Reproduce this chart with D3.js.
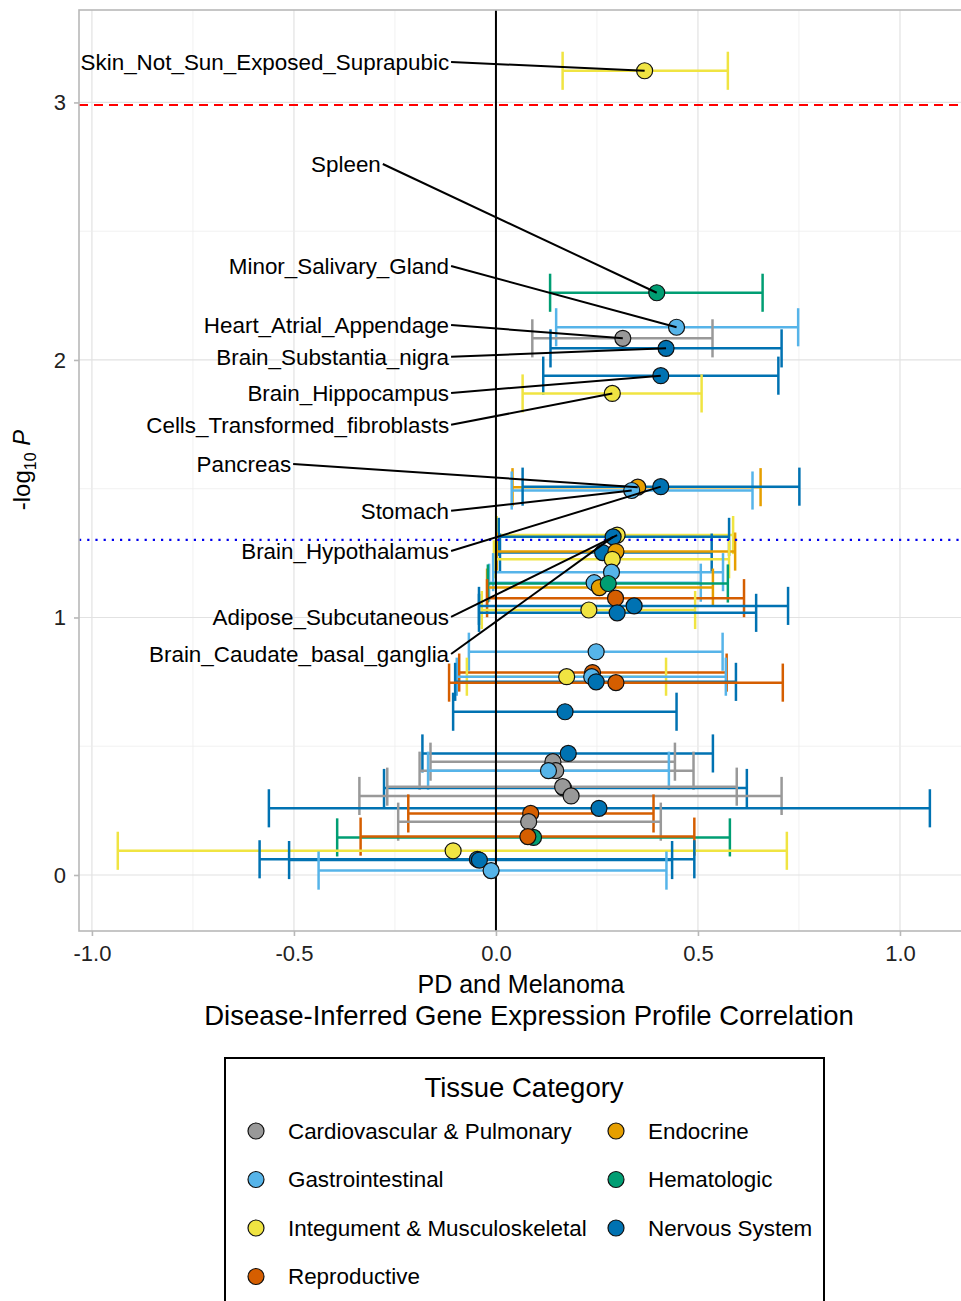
<!DOCTYPE html>
<meta charset="UTF-8">
<script src="https://cdn.jsdelivr.net/npm/d3@7"></script>
<style>
 body { margin:0; background:#fff; }
 svg { font-family:"Liberation Sans", Arial, sans-serif; display:block; }
</style>
<svg id="chart" width="961" height="1301"></svg>
<script>
 // Tissue categories (legend order, filled by row) and their colours
 var categories = ["Cardiovascular & Pulmonary", "Endocrine", "Gastrointestinal", "Hematologic",
                   "Integument & Musculoskeletal", "Nervous System", "Reproductive"];
 var catColors = ["#999999", "#E69F00", "#56B4E9", "#009E73", "#F0E442", "#0072B2", "#D55E00"];

 // One entry per tissue: category index, correlation, -log10 P, 95% CI
 var tissueCat = [4, 3, 2, 0, 5, 5, 4, 1, 2, 5,
                  4, 5, 5, 1, 4, 2, 2, 1, 3, 6, 4, 5, 5,
                  2, 6, 4, 2, 5, 6, 5,
                  5, 0, 0, 2, 5, 0, 0, 5, 6, 0, 3, 6, 4, 5, 5, 2];
 var corr    = [0.368, 0.398, 0.447, 0.314, 0.421, 0.408, 0.288, 0.351, 0.336, 0.408,
                0.300, 0.290, 0.264, 0.297, 0.288, 0.286, 0.243, 0.256, 0.278, 0.296, 0.230, 0.300, 0.342,
                0.248, 0.239, 0.175, 0.237, 0.248, 0.297, 0.171,
                0.179, 0.141, 0.148, 0.130, 0.167, 0.165, 0.186, 0.255, 0.086, 0.081, 0.093, 0.079, -0.106, -0.046, -0.041, -0.012];
 var negLogP = [3.123, 2.261, 2.127, 2.084, 2.045, 1.939, 1.870, 1.506, 1.493, 1.508,
                1.320, 1.313, 1.252, 1.256, 1.226, 1.176, 1.135, 1.116, 1.132, 1.075, 1.029, 1.018, 1.045,
                0.867, 0.786, 0.770, 0.770, 0.750, 0.747, 0.634,
                0.472, 0.440, 0.405, 0.405, 0.338, 0.343, 0.307, 0.259, 0.239, 0.207, 0.146, 0.149, 0.094, 0.061, 0.058, 0.017];
 var ciLow   = [0.165, 0.134, 0.149, 0.090, 0.135, 0.117, 0.066, 0.041, 0.039, 0.066,
                0.002, 0.007, 0.010, 0.002, -0.005, -0.007, -0.017, -0.022, -0.020, -0.022, -0.035, -0.042, -0.042,
                -0.067, -0.091, -0.072, -0.097, -0.101, -0.116, -0.106,
                -0.182, -0.162, -0.189, -0.168, -0.277, -0.269, -0.338, -0.562, -0.217, -0.242, -0.393, -0.335, -0.936, -0.585, -0.512, -0.439];
 var ciHigh  = [0.574, 0.660, 0.748, 0.536, 0.707, 0.699, 0.509, 0.655, 0.635, 0.751,
                0.587, 0.577, 0.534, 0.592, 0.577, 0.562, 0.507, 0.537, 0.574, 0.614, 0.493, 0.644, 0.723,
                0.561, 0.571, 0.421, 0.569, 0.594, 0.710, 0.447,
                0.537, 0.443, 0.489, 0.428, 0.621, 0.596, 0.707, 1.074, 0.390, 0.408, 0.579, 0.491, 0.720, 0.491, 0.436, 0.422];

 // Labelled tissues: index into the arrays above, and where the label sits (data units)
 var labelNames = ["Skin_Not_Sun_Exposed_Suprapubic", "Spleen", "Minor_Salivary_Gland", "Heart_Atrial_Appendage",
                   "Brain_Substantia_nigra", "Brain_Hippocampus", "Cells_Transformed_fibroblasts", "Pancreas",
                   "Stomach", "Brain_Hypothalamus", "Adipose_Subcutaneous", "Brain_Caudate_basal_ganglia"];
 var labelIdx = [0, 1, 2, 3, 4, 5, 6, 7, 8, 9, 10, 11];
 var labelAtX = [-0.116, -0.285, -0.116, -0.116, -0.116, -0.116, -0.116, -0.507, -0.116, -0.116, -0.116, -0.116];
 var labelAtY = [3.157, 2.761, 2.365, 2.136, 2.012, 1.872, 1.748, 1.596, 1.414, 1.258, 1.002, 0.858];

 var xTicks = [-1.0, -0.5, 0.0, 0.5, 1.0];
 var yTicks = [0, 1, 2, 3];
 var bonferroni = 2.99, nominal = 1.301;

 var svg = d3.select("#chart");
 var pLeft = 79, pRight = 963, pTop = 10, pBottom = 931;

 var x = d3.scaleLinear().domain([-1.032, 1.156]).range([pLeft, pRight]);
 var y = d3.scaleLinear().domain([-0.2175, 3.359]).range([pBottom, pTop]);
 var color = d3.scaleOrdinal().domain(d3.range(categories.length)).range(catColors);

 svg.append("clipPath").attr("id", "panel")
    .append("rect").attr("x", pLeft).attr("y", pTop).attr("width", pRight - pLeft).attr("height", pBottom - pTop);

 // Grid
 var grid = svg.append("g");
 grid.selectAll(".gx").data(d3.range(-1, 1.01, 0.25)).enter().append("line")
     .attr("x1", d => x(d)).attr("x2", d => x(d)).attr("y1", pTop).attr("y2", pBottom)
     .attr("stroke", (d, i) => i % 2 ? "#eeeeee" : "#e2e2e2").attr("stroke-width", (d, i) => i % 2 ? 0.8 : 1.2);
 grid.selectAll(".gy").data(d3.range(0, 3.01, 0.5)).enter().append("line")
     .attr("y1", d => y(d)).attr("y2", d => y(d)).attr("x1", pLeft).attr("x2", pRight)
     .attr("stroke", (d, i) => i % 2 ? "#eeeeee" : "#e2e2e2").attr("stroke-width", (d, i) => i % 2 ? 0.8 : 1.2);

 var plot = svg.append("g").attr("clip-path", "url(#panel)");
 var rows = d3.range(corr.length);
 var capHalf = 0.074;

 // Error bars
 var bars = plot.append("g").selectAll("g").data(rows).enter().append("g")
     .attr("stroke", i => color(tissueCat[i])).attr("stroke-width", 2.5).attr("fill", "none");
 bars.append("line").attr("x1", i => x(ciLow[i])).attr("x2", i => x(ciHigh[i]))
     .attr("y1", i => y(negLogP[i])).attr("y2", i => y(negLogP[i]));
 bars.append("line").attr("x1", i => x(ciLow[i])).attr("x2", i => x(ciLow[i]))
     .attr("y1", i => y(negLogP[i] + capHalf)).attr("y2", i => y(negLogP[i] - capHalf));
 bars.append("line").attr("x1", i => x(ciHigh[i])).attr("x2", i => x(ciHigh[i]))
     .attr("y1", i => y(negLogP[i] + capHalf)).attr("y2", i => y(negLogP[i] - capHalf));

 // Reference lines
 plot.append("line").attr("x1", pLeft).attr("x2", pRight).attr("y1", y(bonferroni)).attr("y2", y(bonferroni))
     .attr("stroke", "#ff0000").attr("stroke-width", 2.2).attr("stroke-dasharray", "9,6");
 plot.append("line").attr("x1", pLeft).attr("x2", pRight).attr("y1", y(nominal)).attr("y2", y(nominal))
     .attr("stroke", "#0000ee").attr("stroke-width", 2.2).attr("stroke-dasharray", "2.2,6");
 plot.append("line").attr("x1", x(0)).attr("x2", x(0)).attr("y1", pTop).attr("y2", pBottom)
     .attr("stroke", "#000").attr("stroke-width", 2);

 // Points
 plot.append("g").selectAll("circle").data(rows).enter().append("circle")
     .attr("cx", i => x(corr[i])).attr("cy", i => y(negLogP[i])).attr("r", 8)
     .attr("fill", i => color(tissueCat[i])).attr("stroke", "#111").attr("stroke-width", 1.2);

 // Labels with leader segments
 var lab = svg.append("g").selectAll("g").data(labelNames).enter().append("g");
 lab.append("line")
    .attr("x1", (d, k) => x(labelAtX[k]) + 2).attr("y1", (d, k) => y(labelAtY[k]))
    .attr("x2", (d, k) => x(corr[labelIdx[k]])).attr("y2", (d, k) => y(negLogP[labelIdx[k]]))
    .attr("stroke", "#000").attr("stroke-width", 2);
 lab.append("text")
    .attr("x", (d, k) => x(labelAtX[k])).attr("y", (d, k) => y(labelAtY[k]))
    .attr("text-anchor", "end").attr("dy", "0.35em").attr("font-size", 22.4).attr("fill", "#000")
    .text(d => d);

 // Panel border
 svg.append("rect").attr("x", pLeft).attr("y", pTop).attr("width", pRight - pLeft).attr("height", pBottom - pTop)
    .attr("fill", "none").attr("stroke", "#b8b8b8").attr("stroke-width", 1.6);

 // Axes
 var xAxis = svg.append("g").attr("transform", "translate(0," + pBottom + ")")
     .call(d3.axisBottom(x).tickValues(xTicks).tickFormat(d3.format(".1f")).tickSize(5).tickPadding(9));
 var yAxis = svg.append("g").attr("transform", "translate(" + pLeft + ",0)")
     .call(d3.axisLeft(y).tickValues(yTicks).tickFormat(d3.format("d")).tickSize(5).tickPadding(8));
 [xAxis, yAxis].forEach(function (a) {
     a.select(".domain").remove();
     a.selectAll(".tick line").attr("stroke", "#b8b8b8").attr("stroke-width", 1.6);
     a.selectAll(".tick text").attr("font-size", 22).attr("fill", "#222")
      .attr("font-family", "Liberation Sans, Arial, sans-serif");
 });
 xAxis.selectAll(".tick text").text(d => d3.format(".1f")(d).replace("−", "-"));

 // Axis titles
 svg.append("text").attr("x", 521).attr("y", 984).attr("dy", "0.35em").attr("text-anchor", "middle")
    .attr("font-size", 25).text("PD and Melanoma");
 svg.append("text").attr("x", 529).attr("y", 1015).attr("dy", "0.35em").attr("text-anchor", "middle")
    .attr("font-size", 27.5).text("Disease-Inferred Gene Expression Profile Correlation");

 var yt = svg.append("text").attr("transform", "translate(30,470) rotate(-90)")
    .attr("text-anchor", "middle").attr("font-size", 24);
 yt.append("tspan").text("-log");
 yt.append("tspan").attr("font-size", 16).attr("dy", 6).text("10");
 yt.append("tspan").attr("dy", -6).text(" ");
 yt.append("tspan").attr("font-style", "italic").text("P");

 // Legend
 var lg = svg.append("g");
 lg.append("rect").attr("x", 225).attr("y", 1058).attr("width", 599).attr("height", 280)
   .attr("fill", "#fff").attr("stroke", "#000").attr("stroke-width", 2);
 lg.append("text").attr("x", 524).attr("y", 1087).attr("dy", "0.35em").attr("text-anchor", "middle")
   .attr("font-size", 27.5).text("Tissue Category");
 var item = lg.selectAll(".item").data(categories).enter().append("g")
   .attr("transform", (d, i) => "translate(" + (i % 2 ? 616 : 256) + "," + (1131 + Math.floor(i / 2) * 48.5) + ")");
 item.append("circle").attr("r", 8).attr("fill", (d, i) => color(i)).attr("stroke", "#111").attr("stroke-width", 1.2);
 item.append("text").attr("x", 32).attr("dy", "0.35em").attr("font-size", 22.4).text(d => d);
</script>
